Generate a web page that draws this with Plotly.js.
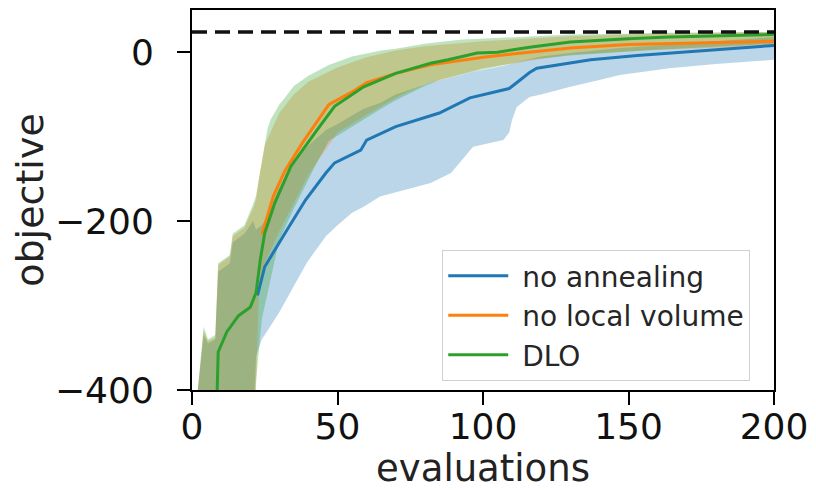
<!DOCTYPE html>
<html>
<head>
<meta charset="utf-8">
<script src="https://cdn.plot.ly/plotly-3.0.1.min.js"></script>
<style>html,body{margin:0;padding:0;background:#fff;}#chart{width:816px;height:490px;}</style>
</head>
<body>
<div id="chart"></div>
<script>
// ---- data ----
const TARGET = 24;

// no annealing (blue)
const blueLineX = [22.5, 25, 32, 39, 46, 49, 58, 60, 70, 85, 95.5, 109, 112, 116, 118.5, 137, 153, 176, 200];
const blueLineY = [-288, -254, -214, -175, -143, -131, -116, -104, -88, -72, -54, -43, -35, -24, -19, -9, -4, 2, 8];
const blueBandX = [2, 4, 5.5, 8, 9, 13, 14, 18, 21, 22, 24, 25, 30, 35, 39.5, 46, 50, 55, 59, 64.6, 70, 82, 89, 93, 96.6, 107, 109, 110, 111.6, 116, 120, 130, 140, 147, 160, 164, 180, 187, 200];
const blueBandHi = [-400, -335, -345, -340, -260, -250, -225, -215, -200, -210, -205, -200, -160, -130, -112, -92, -85, -75, -67, -60, -50, -36, -30, -26, -23, -16, -14, -13, -12, -8, -5, -1, 3, 5, 8, 9, 13, 14, 18];
const blueBandLo = [-450, -450, -450, -450, -450, -450, -450, -450, -450, -360, -340, -335, -308, -277, -249, -218, -205, -190, -183, -171, -166, -155, -143, -127, -112, -104, -95, -80, -65, -53, -50, -41, -33, -27, -21, -19, -14, -12, -9];

// no local volume (orange)
const orangeLineX = [24, 25, 28, 32, 38, 47, 55, 60, 70, 82, 90, 100, 110, 130, 150, 175, 200];
const orangeLineY = [-216, -205, -170, -140, -107, -62, -47, -36, -25, -15, -11, -6, -2, 5, 9, 11, 13];
const orangeBandX = [2, 4, 5.5, 8, 9, 13, 14, 18, 21, 22, 23, 25, 27, 30, 35, 40, 50, 60, 70, 80, 100, 120, 130, 150, 160, 180, 200];
const orangeBandHi = [-400, -330, -342, -338, -252, -242, -218, -208, -185, -175, -150, -110, -95, -72, -50, -35, -18, -6, 2, 7, 13, 17, 19, 21, 22, 23, 24];
const orangeBandLo = [-450, -450, -450, -450, -450, -450, -450, -450, -450, -400, -280, -250, -235, -212, -178, -145, -95, -74, -54, -38, -19, -8, -3, 1, 3, 5, 8];

// DLO (green)
const greenLineX = [8.5, 9, 12, 16, 20, 22, 23.5, 25, 28.5, 34, 43, 49, 59, 70, 82, 88, 98, 105, 116, 130, 150, 164, 200];
const greenLineY = [-420, -355, -331, -312, -302, -285, -245, -214, -178, -135, -92, -64, -41, -25, -13, -9, -1, 0, 6, 12, 16, 18, 21];
const greenBandX = [2, 4, 5.5, 8, 9, 13, 14, 18, 21, 22, 24, 26, 27, 30, 31, 35, 40, 43, 47, 55, 59, 65, 70, 80, 85, 93, 99, 110, 116, 130, 150, 160, 175, 200];
const greenBandHi = [-400, -325, -340, -335, -250, -240, -215, -205, -180, -170, -130, -90, -80, -62, -58, -40, -28, -22, -15, -5, -2, 2, 4, 10, 12, 15, 16, 18, 19, 21, 22, 23, 23.5, 24];
const greenBandLo = [-450, -450, -450, -450, -450, -450, -450, -450, -450, -390, -316, -285, -269, -222, -215, -185, -150, -130, -105, -88, -80, -67, -57, -40, -33, -26, -21, -13, -9, -4, 1, 3, 6, 10];

const seriesNames = ['no annealing', 'no local volume', 'DLO'];
const xTicks = [0, 50, 100, 150, 200];
const yTicks = [-400, -200, 0];

// ---- styles ----
const colors = ['#1f77b4', '#ff7f0e', '#2ca02c'];
const fills = ['rgba(31,119,180,0.3)', 'rgba(255,127,14,0.3)', 'rgba(44,160,44,0.3)'];

const series = [
  {lx: blueLineX, ly: blueLineY, bx: blueBandX, hi: blueBandHi, lo: blueBandLo},
  {lx: orangeLineX, ly: orangeLineY, bx: orangeBandX, hi: orangeBandHi, lo: orangeBandLo},
  {lx: greenLineX, ly: greenLineY, bx: greenBandX, hi: greenBandHi, lo: greenBandLo}
];

const traces = [];
series.forEach((s, i) => {
  const px = s.bx.concat(s.bx.slice().reverse());
  const py = s.hi.concat(s.lo.slice().reverse());
  traces.push({
    x: px, y: py, type: 'scatter', mode: 'lines', fill: 'toself',
    fillcolor: fills[i], line: {width: 0}, showlegend: false, hoverinfo: 'skip'
  });
});
series.forEach((s, i) => {
  traces.push({
    x: s.lx, y: s.ly, type: 'scatter', mode: 'lines', name: '\u00a0' + seriesNames[i],
    line: {color: colors[i], width: 3}
  });
});

const layout = {
  width: 816, height: 490,
  margin: {l: 192, r: 42, t: 10, b: 100},
  paper_bgcolor: '#fff', plot_bgcolor: '#fff',
  font: {family: 'DejaVu Sans', color: '#111'},
  showlegend: true,
  legend: {
    x: 0.43, y: 0.368, xanchor: 'left', yanchor: 'top',
    bgcolor: 'rgba(255,255,255,0.85)', bordercolor: '#d0d0d0', borderwidth: 1,
    font: {family: 'DejaVu Sans', size: 28, color: '#262626'},
    itemwidth: 60, tracegroupgap: 0
  },
  xaxis: {
    range: [0, 200], tickvals: xTicks, ticktext: xTicks.map(String),
    showgrid: false, zeroline: false, showline: true, mirror: true,
    linecolor: '#000', linewidth: 2, ticks: 'outside', ticklen: 13, tickwidth: 2, tickcolor: '#000',
    tickfont: {family: 'DejaVu Sans', size: 36, color: '#111'},
    ticklabelstandoff: -9,
    title: {text: 'evaluations', font: {family: 'DejaVu Sans', size: 37, color: '#222'}, standoff: 10},
    automargin: false
  },
  yaxis: {
    range: [-400, 50], tickvals: yTicks,
    showgrid: false, zeroline: false, showline: true, mirror: true,
    linecolor: '#000', linewidth: 2, ticks: 'outside', ticklen: 13, tickwidth: 2, tickcolor: '#000',
    tickfont: {family: 'DejaVu Sans', size: 36, color: '#111'},
    ticklabelstandoff: 16,
    title: {text: 'objective', font: {family: 'DejaVu Sans', size: 38, color: '#222'}, standoff: 0},
    automargin: false
  },
  shapes: [{
    type: 'line', xref: 'paper', x0: 0, x1: 1, yref: 'y', y0: TARGET, y1: TARGET,
    line: {color: '#111', width: 3.5, dash: '15px,8px'}
  }]
};

Plotly.newPlot('chart', traces, layout, {displayModeBar: false, staticPlot: true});
</script>
</body>
</html>
